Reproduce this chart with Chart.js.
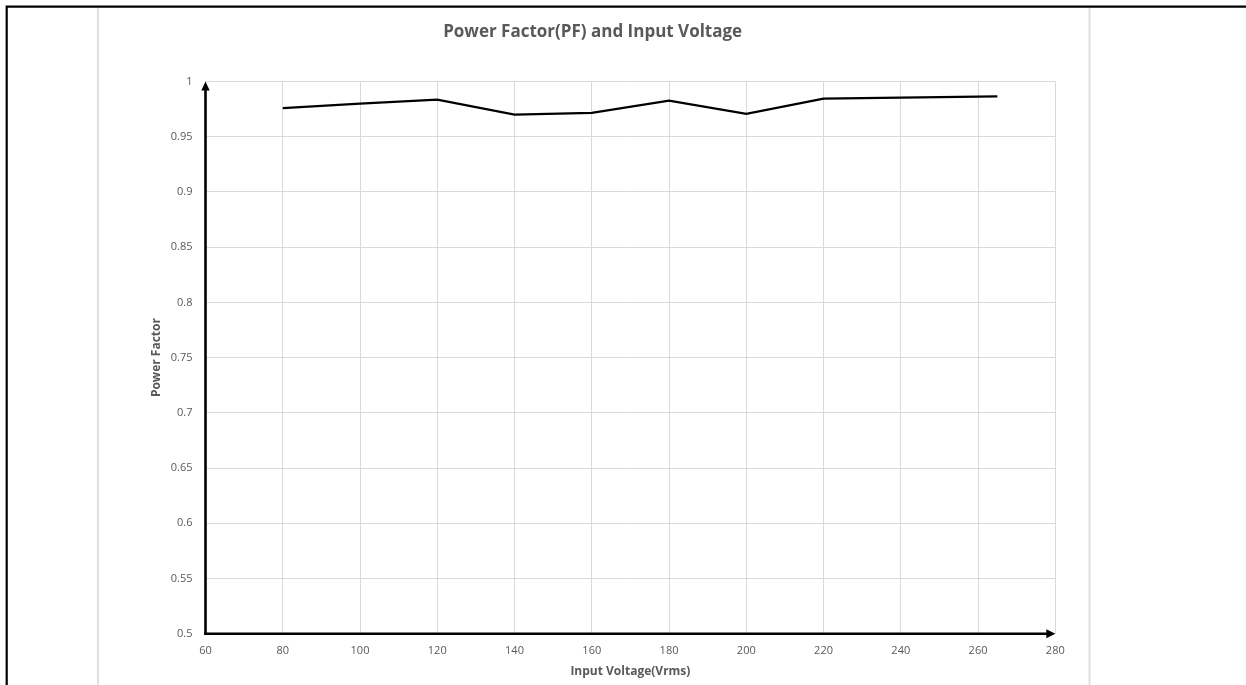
<!DOCTYPE html>
<html><head><meta charset="utf-8">
<script src="https://cdn.jsdelivr.net/npm/chart.js@4/dist/chart.umd.min.js"></script>
<style>html,body{margin:0;padding:0;background:#fff;overflow:hidden}#wrap{position:relative;width:1246px;height:685px}</style>
</head><body><div id="wrap"><canvas id="c" width="1246" height="685"></canvas></div>
<script>
// ---- data ----
const voltages = [80, 100, 120, 140, 160, 180, 200, 220, 240, 265];
const powerFactor = [0.976, 0.980, 0.9835, 0.970, 0.9715, 0.9826, 0.9706, 0.9844, 0.9853, 0.9866];
const xTicks = [60, 80, 100, 120, 140, 160, 180, 200, 220, 240, 260, 280];
const yTicks = [0.5, 0.55, 0.6, 0.65, 0.7, 0.75, 0.8, 0.85, 0.9, 0.95, 1];
const titleText = 'Power Factor(PF) and Input Voltage';
const xTitle = 'Input Voltage(Vrms)';
const yTitle = 'Power Factor';

const FONT = "'Open Sans', 'DejaVu Sans', sans-serif";
const TXT = '#595959';
const GRID = '#d9d9d9';

const decor = {
  id: 'decor',
  beforeDraw(chart) {
    const ctx = chart.ctx;
    ctx.save();
    ctx.fillStyle = '#fff';
    ctx.fillRect(0, 0, chart.width, chart.height);
    ctx.strokeStyle = '#e0e0e0';
    ctx.lineWidth = 2;
    [98, 1089.5].forEach(x => { ctx.beginPath(); ctx.moveTo(x, 8); ctx.lineTo(x, chart.height); ctx.stroke(); });
    ctx.strokeStyle = '#000';
    ctx.lineWidth = 2.2;
    ctx.beginPath(); ctx.moveTo(6.7, chart.height + 2); ctx.lineTo(6.7, 6.7); ctx.lineTo(chart.width + 4, 6.7); ctx.stroke();
    ctx.restore();
  },
  afterDatasetsDraw(chart) {
    const ctx = chart.ctx, xs = chart.scales.x, ys = chart.scales.y;
    const x0 = xs.getPixelForValue(xTicks[0]);
    const xEnd = xs.getPixelForValue(xTicks[xTicks.length - 1]);
    const y0 = ys.getPixelForValue(yTicks[0]);
    const yTop = ys.getPixelForValue(yTicks[yTicks.length - 1]);
    ctx.save();
    ctx.strokeStyle = '#000'; ctx.fillStyle = '#000'; ctx.lineWidth = 2.6;
    ctx.beginPath(); ctx.moveTo(x0, y0 + 1.3); ctx.lineTo(x0, yTop + 7); ctx.stroke();
    ctx.beginPath(); ctx.moveTo(x0 - 1.3, y0); ctx.lineTo(xEnd - 7, y0); ctx.stroke();
    ctx.beginPath(); ctx.moveTo(x0, yTop); ctx.lineTo(x0 - 4.2, yTop + 9); ctx.lineTo(x0 + 4.2, yTop + 9); ctx.closePath(); ctx.fill();
    ctx.beginPath(); ctx.moveTo(xEnd, y0); ctx.lineTo(xEnd - 9, y0 - 4.5); ctx.lineTo(xEnd - 9, y0 + 4.5); ctx.closePath(); ctx.fill();
    ctx.restore();
  }
};

new Chart(document.getElementById('c'), {
  type: 'line',
  data: {
    datasets: [{
      data: voltages.map((v, i) => ({ x: v, y: powerFactor[i] })),
      borderColor: '#000',
      borderWidth: 2.25,
      pointRadius: 0,
      tension: 0,
      fill: false
    }]
  },
  options: {
    responsive: false,
    animation: false,
    layout: { padding: { left: 130, right: 190.7, top: 0, bottom: 0 } },
    plugins: {
      legend: { display: false },
      tooltip: { enabled: false },
      title: {
        display: true, text: titleText, color: TXT,
        font: { family: FONT, size: 17, weight: 'bold' },
        padding: { top: 21.8, bottom: 39.3 }
      }
    },
    scales: {
      x: {
        type: 'linear', min: xTicks[0], max: xTicks[xTicks.length - 1],
        afterBuildTicks: s => { s.ticks = xTicks.map(v => ({ value: v })); },
        afterFit: s => { s.height = 51.3; },
        border: { display: false },
        grid: { color: GRID, lineWidth: 1, drawTicks: false },
        ticks: { color: TXT, font: { family: FONT, size: 11 }, padding: 10.7, maxRotation: 0, autoSkip: false,
                 callback: v => String(v) },
        title: { display: true, text: xTitle, color: TXT, font: { family: FONT, size: 12, weight: 'bold' },
                 padding: { top: 0, bottom: 5.8 } }
      },
      y: {
        type: 'linear', min: yTicks[0], max: yTicks[yTicks.length - 1],
        afterBuildTicks: s => { s.ticks = yTicks.map(v => ({ value: v })); },
        afterFit: s => { s.width = 75.5; },
        border: { display: false },
        grid: { color: GRID, lineWidth: 1, drawTicks: false },
        ticks: { color: TXT, font: { family: FONT, size: 11 }, padding: 13, autoSkip: false,
                 callback: v => String(parseFloat(Number(v).toFixed(2))) },
        title: { display: true, text: yTitle, color: TXT, font: { family: FONT, size: 12, weight: 'bold' },
                 padding: { top: 19.8, bottom: 0 } }
      }
    }
  },
  plugins: [decor]
});
</script>
</body></html>
